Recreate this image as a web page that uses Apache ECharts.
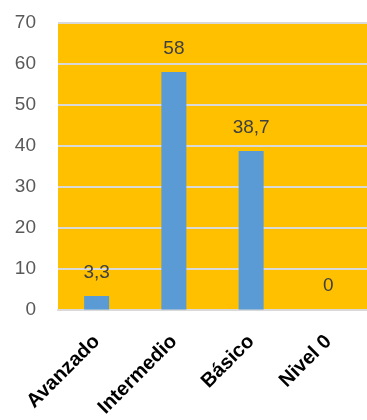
<!DOCTYPE html>
<html><head><meta charset="utf-8">
<script src="https://cdn.jsdelivr.net/npm/echarts@6/dist/echarts.min.js"></script>
<style>html,body{margin:0;padding:0;background:#fff}#c{width:367px;height:420px}</style>
</head><body><div id="c"></div>
<script>
const categories = ['Avanzado', 'Intermedio', 'Básico', 'Nivel 0'];
const values = [3.3, 58, 38.7, 0];
const yMin = 0, yMax = 70, yStep = 10;

const chart = echarts.init(document.getElementById('c'), null, {renderer: 'canvas'});
chart.setOption({
  animation: false,
  backgroundColor: '#ffffff',
  grid: {left: 58, right: 0, top: 23, bottom: 109, show: true, backgroundColor: '#FFC000', borderWidth: 0},
  xAxis: {
    type: 'category', data: categories,
    axisLine: {show: true, lineStyle: {color: '#d9d9d9', width: 2}},
    axisTick: {show: false},
    axisLabel: {rotate: 45, margin: 29, fontFamily: 'Liberation Sans', fontWeight: 'bold', fontSize: 20, color: '#000000', interval: 0}
  },
  yAxis: {
    type: 'value', min: yMin, max: yMax, interval: yStep,
    axisLine: {show: false}, axisTick: {show: false},
    splitLine: {lineStyle: {color: '#d9d9d9', width: 2}},
    axisLabel: {margin: 22, fontFamily: 'Liberation Sans', fontSize: 19, color: '#595959'}
  },
  series: [{
    type: 'bar', data: values, barWidth: 25,
    itemStyle: {color: '#5B9BD5'},
    label: {show: true, position: 'top', distance: 14, fontFamily: 'Liberation Sans', fontSize: 19, color: '#404040',
      formatter: p => String(p.value).replace('.', ',')}
  }]
});
</script></body></html>
